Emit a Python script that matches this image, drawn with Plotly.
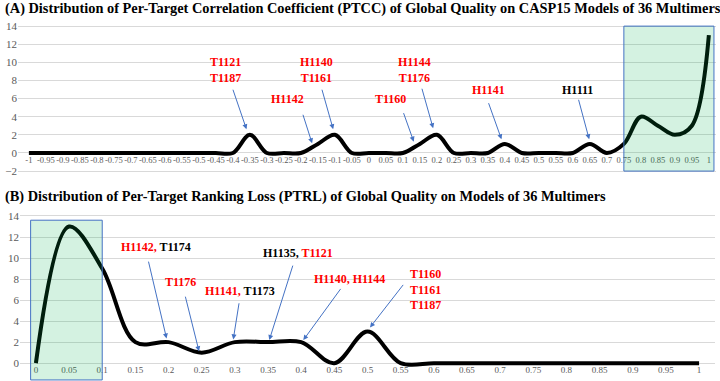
import plotly.graph_objects as go

# ---------------- data ----------------
ptcc_x = [round(-1 + 0.05 * i, 2) for i in range(41)]
ptcc_counts = [0, 0, 0, 0, 0, 0, 0, 0, 0, 0, 0, 0,   # -1 .. -0.45
               0, 2, 0, 0, 0, 1, 2, 0,                 # -0.4 .. -0.05
               0, 0, 0, 1, 2, 0, 0, 0, 1, 0, 0, 0, 0, 1, 0,  # 0 .. 0.7
               1, 4, 3, 2, 3, 13]                      # 0.75 .. 1
ptcc_labels = ["-1", "-0.95", "-0.9", "-0.85", "-0.8", "-0.75", "-0.7", "-0.65", "-0.6", "-0.55",
               "-0.5", "-0.45", "-0.4", "-0.35", "-0.3", "-0.25", "-0.2", "-0.15", "-0.1", "-0.05",
               "0", "0.05", "0.1", "0.15", "0.2", "0.25", "0.3", "0.35", "0.4", "0.45", "0.5",
               "0.55", "0.6", "0.65", "0.7", "0.75", "0.8", "0.85", "0.9", "0.95", "1"]

ptrl_x = [round(0.05 * i, 2) for i in range(21)]
ptrl_counts = [0, 13, 9, 2, 2, 1, 2, 2, 2, 0, 3, 0, 0, 0, 0, 0, 0, 0, 0, 0, 0]
ptrl_labels = ["0", "0.05", "0.1", "0.15", "0.2", "0.25", "0.3", "0.35", "0.4", "0.45", "0.5",
               "0.55", "0.6", "0.65", "0.7", "0.75", "0.8", "0.85", "0.9", "0.95", "1"]

y_top_ticks = [-2, 0, 2, 4, 6, 8, 10, 12, 14]
y_bot_ticks = [0, 2, 4, 6, 8, 10, 12, 14]

title_a = "(A) Distribution of Per-Target Correlation Coefficient (PTCC) of Global Quality on CASP15 Models of 36 Multimers"
title_b = "(B) Distribution of Per-Target Ranking Loss (PTRL) of Global Quality on Models of 36 Multimers"

RED = "#ff0000"
ARROW = "#4472c4"
SERIF = "Liberation Serif"

fig = go.Figure()
fig.add_trace(go.Scatter(x=ptcc_x, y=ptcc_counts, mode="lines",
                         line=dict(color="black", width=4, shape="spline", smoothing=1.0),
                         xaxis="x", yaxis="y", showlegend=False, hoverinfo="x+y"))
fig.add_trace(go.Scatter(x=ptrl_x, y=ptrl_counts, mode="lines",
                         line=dict(color="black", width=4, shape="spline", smoothing=1.0),
                         xaxis="x2", yaxis="y2", showlegend=False, hoverinfo="x+y"))

tickfont_x = dict(family=SERIF, size=8.5, color="#595959")
tickfont_y = dict(family=SERIF, size=11, color="#595959")

fig.update_layout(
    width=720, height=381,
    margin=dict(l=0, r=0, t=0, b=0, autoexpand=False),
    paper_bgcolor="white", plot_bgcolor="white",
    xaxis=dict(domain=[18 / 720, 716 / 720], range=[-1.032, 1.021], anchor="free", position=0.5984,
               tickmode="array", tickvals=ptcc_x, ticktext=ptcc_labels, tickangle=0, automargin=False,
               showgrid=False, zeroline=False, showline=False, ticks="", tickfont=tickfont_x),
    yaxis=dict(domain=[0.5462, 0.9386], range=[-2.2, 14.3], anchor="x", automargin=False,
               tickmode="array", tickvals=y_top_ticks, showgrid=True, gridcolor="#d9d9d9",
               zeroline=False, showline=False, ticks="", tickfont=tickfont_y),
    xaxis2=dict(domain=[20 / 720, 715 / 720], range=[-0.024, 1.024], anchor="free", position=0.0472,
                tickmode="array", tickvals=ptrl_x, ticktext=ptrl_labels, tickangle=0, automargin=False,
                showgrid=False, zeroline=False, showline=False, ticks="",
                tickfont=dict(family=SERIF, size=9, color="#595959")),
    yaxis2=dict(domain=[0.0, 0.4441], range=[-1.7, 14.4], anchor="x2", automargin=False,
                tickmode="array", tickvals=y_bot_ticks, showgrid=True, gridcolor="#d9d9d9",
                zeroline=False, showline=False, ticks="", tickfont=tickfont_y),
)

# highlight boxes
fig.add_shape(type="rect", xref="x", yref="y", x0=0.75, x1=1.015, y0=-2, y1=14,
              fillcolor="rgba(0,176,80,0.17)", line=dict(color=ARROW, width=1), layer="above")
fig.add_shape(type="rect", xref="x2", yref="y2", x0=-0.008, x1=0.1, y0=-1.6, y1=13.6,
              fillcolor="rgba(0,176,80,0.17)", line=dict(color=ARROW, width=1), layer="above")

# titles
for txt, yp in [(title_a, 1 - 8 / 381), (title_b, 1 - 196 / 381)]:
    fig.add_annotation(text="<b>" + txt + "</b>", xref="paper", yref="paper", x=3 / 720, y=yp,
                       xanchor="left", yanchor="middle", showarrow=False,
                       font=dict(family=SERIF, size=14.35, color="black"))

def label(text, x, y, xa, ya, color=RED):
    fig.add_annotation(text="<b>" + text + "</b>", x=x, y=y, xref=xa, yref=ya, showarrow=False,
                       xanchor="center", yanchor="middle",
                       font=dict(family=SERIF, size=12, color=color))

def arrow(x, y, ax, ay, xa, ya):
    fig.add_annotation(text="", x=x, y=y, xref=xa, yref=ya, ax=ax, ay=ay, showarrow=True,
                       arrowhead=2, arrowsize=1, arrowwidth=1, arrowcolor=ARROW)

# top panel labels
label("T1121<br>T1187", -0.4226, 9.2, "x", "y")
label("H1140<br>T1161", -0.153, 9.2, "x", "y")
label("H1142", -0.239, 5.93, "x", "y")
label("T1160", 0.0626, 5.93, "x", "y")
label("H1144<br>T1176", 0.134, 9.2, "x", "y")
label("H1141", 0.351, 6.95, "x", "y")
label("H1111", 0.615, 6.95, "x", "y", color="black")

arrow(-0.36, 2.62, -14, -41, "x", "y")
arrow(-0.105, 2.62, -11.6, -41, "x", "y")
arrow(-0.167, 1.07, -9.6, -30, "x", "y")
arrow(0.132, 1.25, -10.7, -30, "x", "y")
arrow(0.189, 2.73, -11.6, -41, "x", "y")
arrow(0.39, 1.51, -13.4, -37.6, "x", "y")
arrow(0.648, 1.51, -11, -41, "x", "y")

# bottom panel labels
def r(t):
    return "<span style='color:%s'>%s</span>" % (RED, t)

label(r("H1142,") + " T1174", 0.1815, 11.02, "x2", "y2", color="black")
label("T1176", 0.2184, 7.74, "x2", "y2")
label(r("H1141,") + " T1173", 0.3072, 6.86, "x2", "y2", color="black")
label("H1135, " + r("T1121"), 0.3952, 10.45, "x2", "y2", color="black")
label("H1140, H1144", 0.4724, 7.97, "x2", "y2")
label("T1160<br>T1161<br>T1187", 0.588, 6.99, "x2", "y2")

arrow(0.197, 2.35, -18.4, -78.3, "x2", "y2")
arrow(0.2459, 1.14, -14, -56, "x2", "y2")
arrow(0.2976, 2.26, 6, -37.6, "x2", "y2")
arrow(0.3519, 2.19, 24, -76, "x2", "y2")
arrow(0.4032, 2.19, 38.4, -52.7, "x2", "y2")
arrow(0.5038, 3.4, 34.3, -44, "x2", "y2")

fig.write_html("out.html", config={"displayModeBar": False},
               post_script="document.body.style.margin='0';document.body.style.padding='0';")
